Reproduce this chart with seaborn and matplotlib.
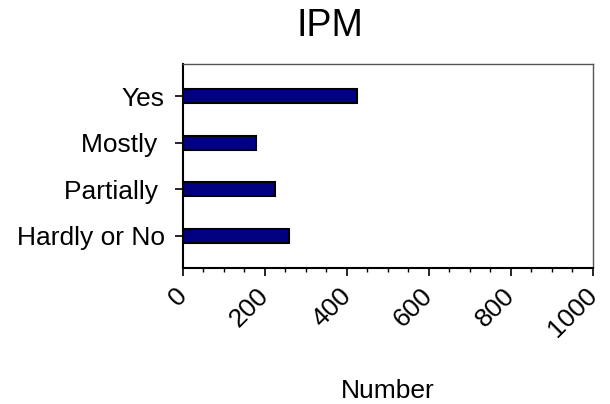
import matplotlib
matplotlib.use("Agg")
import matplotlib.pyplot as plt
import seaborn as sns
import pandas as pd
from matplotlib.ticker import MultipleLocator

categories = ["Yes", "Mostly ", "Partially ", "Hardly or No"]
values = [424, 178, 224, 258]
xticks = [0, 200, 400, 600, 800, 1000]

sns.set_theme(style="white")
plt.rcParams['font.family'] = ['Liberation Sans', 'DejaVu Sans']
plt.rcParams['text.color'] = 'black'
plt.rcParams['axes.labelcolor'] = 'black'
plt.rcParams['xtick.color'] = 'black'
plt.rcParams['ytick.color'] = 'black'

df = pd.DataFrame({"category": categories, "value": values})

fig = plt.figure(figsize=(6.1, 4.04), dpi=100)
ax = fig.add_axes([0.3, 0.3366, 0.672, 0.505])

sns.barplot(data=df, x="value", y="category", orient="h", color="#000080",
            width=0.3, edgecolor="black", linewidth=1.5, saturation=1, ax=ax)

ax.set_xlim(0, 1000)
ax.set_ylim(3.7, -0.7)
ax.set_xticks(xticks)
ax.set_xticklabels([str(t) for t in xticks], rotation=45, ha="right", va="center",
                   rotation_mode="anchor", fontsize=19)
ax.xaxis.set_minor_locator(MultipleLocator(50))
ax.tick_params(axis="x", which="major", direction="out", length=6, width=1.2,
               bottom=True, color="black", pad=11, labelcolor="black")
ax.tick_params(axis="x", which="minor", direction="out", length=3, width=1.0,
               bottom=True, color="black")
ax.tick_params(axis="y", which="major", direction="out", length=6, width=1.2,
               left=True, color="black", labelsize=19, pad=7, labelcolor="black")
ax.set_ylabel("")
ax.set_xlabel("Number", fontsize=19, labelpad=27, color="black")
ax.set_title("IPM", fontsize=27, x=0.358, pad=20, color="black")

for s in ["left", "bottom"]:
    ax.spines[s].set_color("black")
    ax.spines[s].set_linewidth(1.5)
for s in ["top", "right"]:
    ax.spines[s].set_color("#555555")
    ax.spines[s].set_linewidth(1.0)
    ax.spines[s].set_visible(True)

fig.savefig("out.png", dpi=100, facecolor="white")
